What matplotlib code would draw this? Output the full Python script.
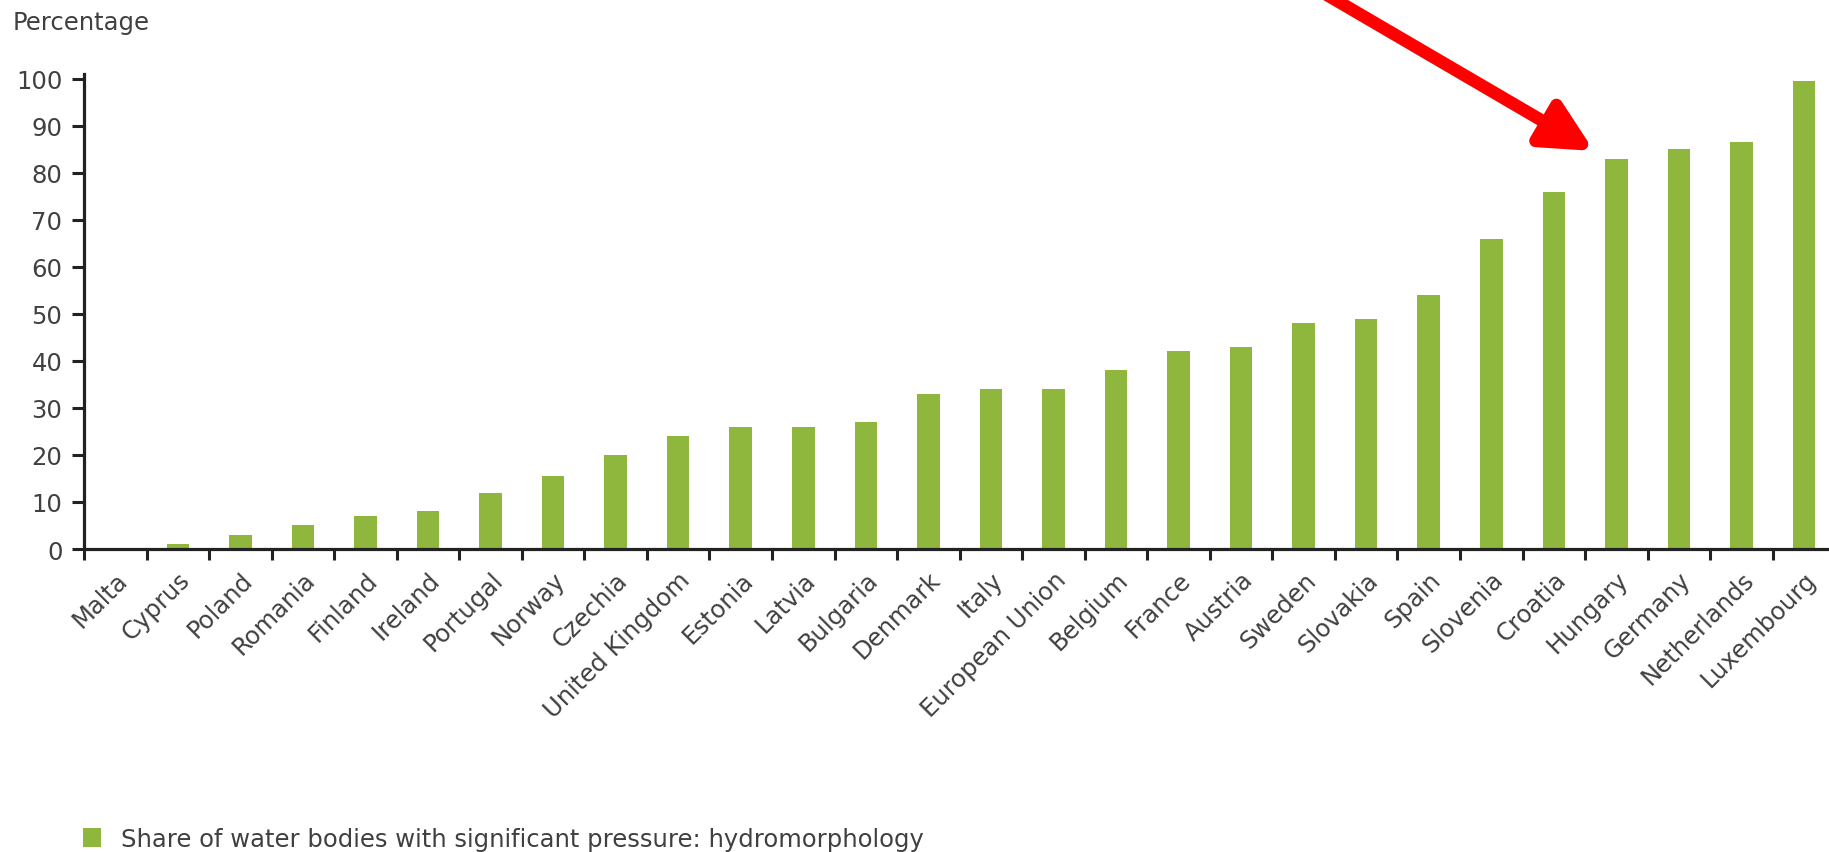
import numpy as np
import matplotlib
matplotlib.use("Agg")
import matplotlib.pyplot as plt

# data
countries = ["Malta", "Cyprus", "Poland", "Romania", "Finland", "Ireland", "Portugal",
             "Norway", "Czechia", "United Kingdom", "Estonia", "Latvia", "Bulgaria",
             "Denmark", "Italy", "European Union", "Belgium", "France", "Austria",
             "Sweden", "Slovakia", "Spain", "Slovenia", "Croatia", "Hungary",
             "Germany", "Netherlands", "Luxembourg"]
share = [0, 1, 3, 5, 7, 8, 12, 15.5, 20, 24, 26, 26, 27, 33, 34, 34, 38, 42, 43,
         48, 49, 54, 66, 76, 83, 85, 86.5, 99.5]
yticks = list(range(0, 101, 10))
legend_label = "Share of water bodies with significant pressure: hydromorphology"

green = "#8fb73e"
dark = "#222222"
txt = "#404040"
W, H = 1829, 853
fs = 17.5

plt.rcParams["font.family"] = ["DejaVu Sans"]
fig = plt.figure(figsize=(W / 100, H / 100), dpi=100)
ax = fig.add_axes([84 / W, 303 / H, (W - 84) / W, 475 / H])

x = np.arange(len(countries))
bars = ax.bar(x, share, width=0.36, color=green, label=legend_label, zorder=2)

ax.set_xlim(-0.5, 27.4)
ax.set_ylim(0, 101)
ax.set_yticks(yticks)
ax.set_yticklabels([str(v) for v in yticks], fontsize=fs, color=txt)

# ticks on the category boundaries, labels at the centres
ax.set_xticks(np.arange(-0.5, 27, 1.0))
ax.set_xticklabels([])
ax.set_xticks(x, minor=True)
ax.set_xticklabels(countries, minor=True, rotation=45, ha="right", va="top",
                   rotation_mode="anchor", fontsize=fs, color=txt)
ax.tick_params(axis="x", which="major", length=8, width=2.2, color=dark, direction="out")
ax.tick_params(axis="x", which="minor", length=0, pad=13)
ax.tick_params(axis="y", length=8.5, width=2.2, color=dark, pad=7)

for s in ["top", "right"]:
    ax.spines[s].set_visible(False)
for s in ["left", "bottom"]:
    ax.spines[s].set_linewidth(2.3)
    ax.spines[s].set_color(dark)

fig.text(13 / W, 1 - 11 / H, "Percentage", fontsize=fs, color=txt, ha="left", va="top")

fig.legend(handles=[bars], labels=[legend_label], loc="lower left",
           bbox_to_anchor=(83 / W, 1 / H), bbox_transform=fig.transFigure,
           frameon=False, fontsize=fs, handlelength=0.75, handleheight=0.8,
           handletextpad=0.8, borderpad=0, borderaxespad=0, labelcolor=txt)

# red arrow pointing at Hungary
ax.annotate("", xy=(1594, H - 152), xycoords="figure pixels",
            xytext=(1262, H + 42), textcoords="figure pixels",
            annotation_clip=False,
            arrowprops=dict(arrowstyle="-|>,head_length=3.0,head_width=1.5",
                            mutation_scale=10, lw=9, color="#ff0000",
                            shrinkA=0, shrinkB=0, capstyle="round", joinstyle="round"))

fig.savefig("out.png", dpi=100)
